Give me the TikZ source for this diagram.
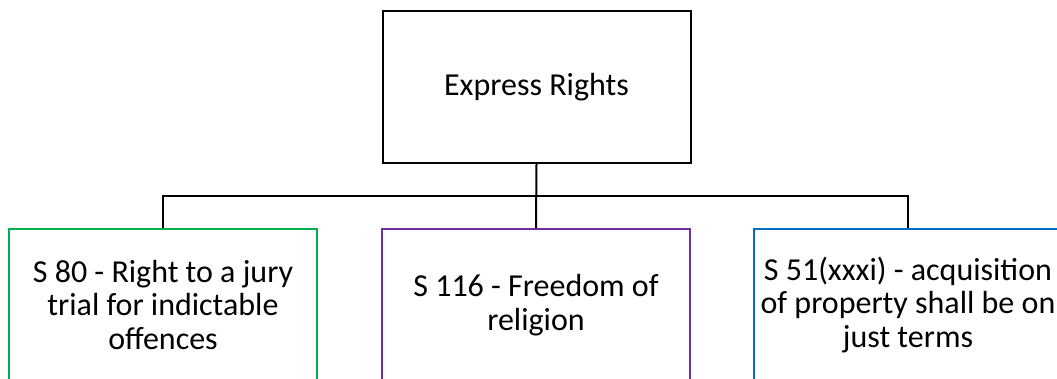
\documentclass[tikz,border=0pt]{standalone}
\usepackage{fontspec}
\setmainfont{Carlito}
\definecolor{gboxc}{HTML}{00B050}
\definecolor{pboxc}{HTML}{7030A0}
\definecolor{bboxc}{HTML}{0070C0}
\begin{document}
\begin{tikzpicture}[x=1pt,y=-1pt,
  box/.style={draw, line width=2pt, fill=white, minimum width=308pt, minimum height=152pt,
    inner sep=0pt, align=center, font=\fontsize{32}{33.5}\selectfont},
  link/.style={draw=black, line width=2pt}]
\useasboundingbox (0,0) rectangle (1057,378);
\clip (0,0) rectangle (1057,378);
\node[box] (top) at (536.5,87) {Express Rights};
\node[box, draw=gboxc] (g) at (163,305) {S 80 - Right to a jury\\trial for indictable\\offences};
\node[box, draw=pboxc] (p) at (536,305) {S 116 - Freedom of\\religion};
\node[box, draw=bboxc] (b) at (908,305) {S 51(xxxi) - acquisition\\of property shall be on\\just terms};
\coordinate (bar) at (536,196);
\path[link] (top.south) -- (p.north);
\path[link] (g.north) -- (g.north |- bar) -- (b.north |- bar) -- (b.north);
\end{tikzpicture}
\end{document}
